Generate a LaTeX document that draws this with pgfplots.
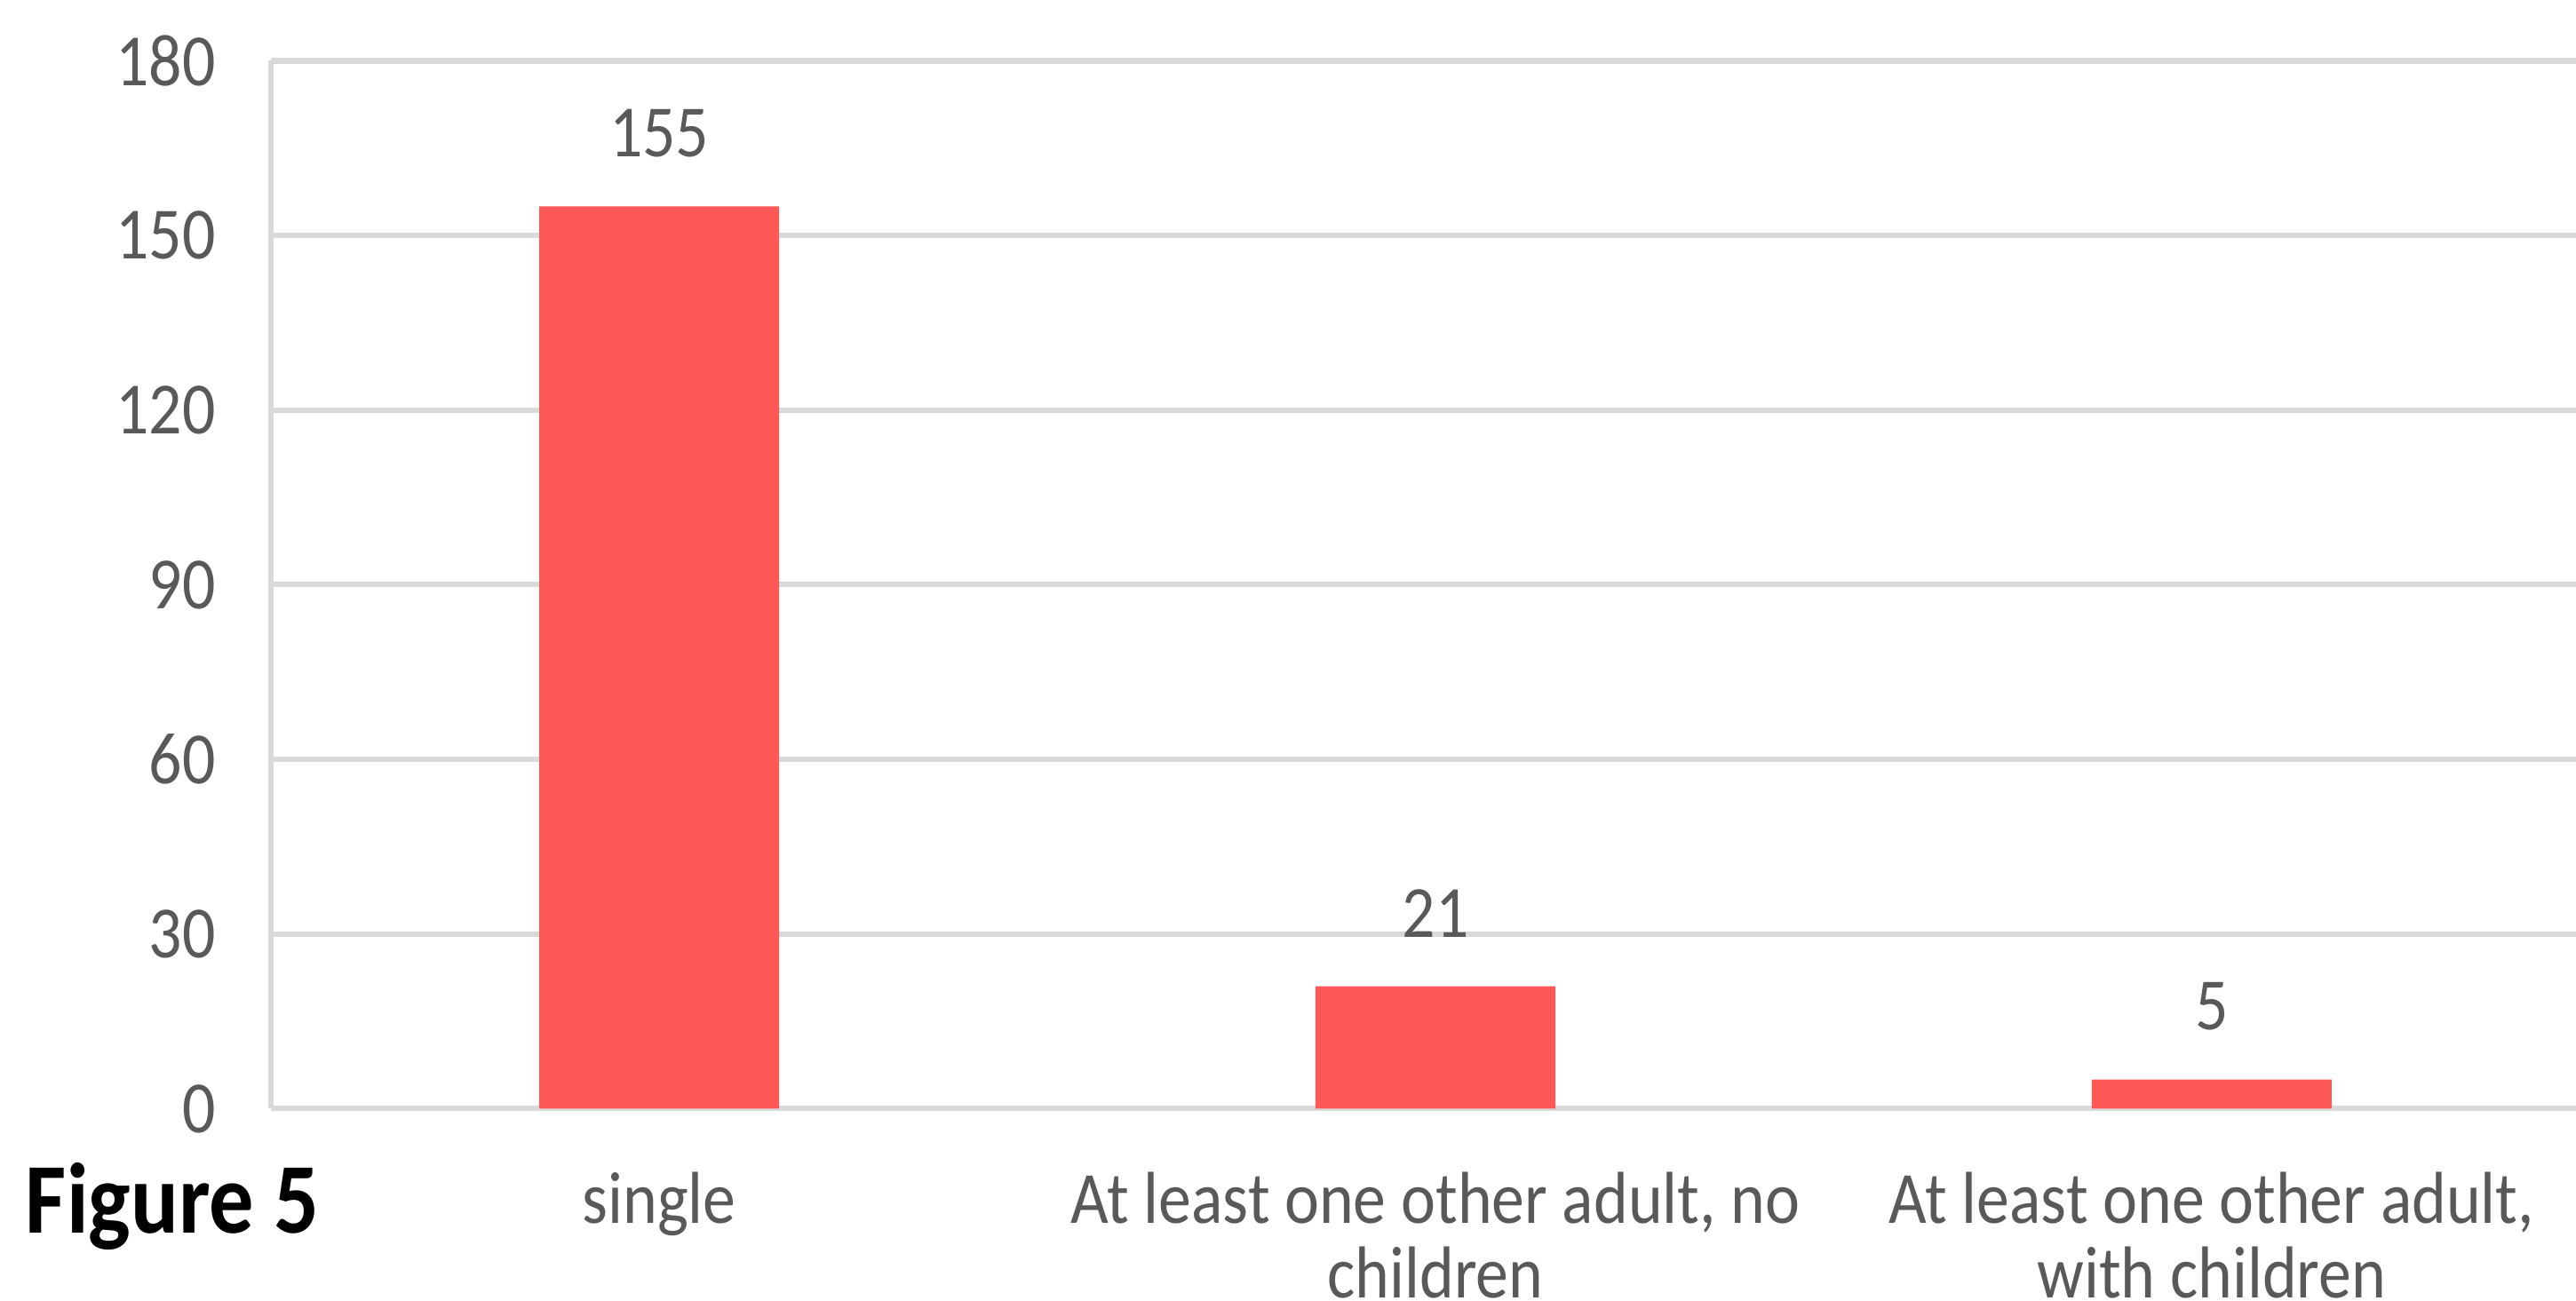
\documentclass[border=0pt]{standalone}
\usepackage{pgfplots}
\pgfplotsset{compat=1.18}
\usepackage{fontspec}
\setmainfont{Carlito}[FakeStretch=0.89]
\definecolor{barred}{RGB}{255,88,88}
\definecolor{gridgray}{RGB}{217,217,217}
\definecolor{textgray}{RGB}{89,89,89}

\begin{document}
\begin{tikzpicture}
\begin{axis}[
  at={(0pt,0pt)}, anchor=south west,
  scale only axis,
  width=425.25pt, height=191.4pt,
  xmin=-0.5, xmax=2.5,
  ymin=0, ymax=180,
  ytick={0,30,...,180},
  xtick={0,1,2},
  xticklabels={single,
    {At least one other adult, no\\children},
    {At least one other adult,\\with children}},
  xticklabel style={align=center, font=\fontsize{13.45}{13.6}\selectfont, text=textgray,
    inner sep=0pt, yshift=-11.4pt},
  yticklabel style={font=\fontsize{13.45}{14}\selectfont, text=textgray, xshift=-6.6pt},
  /pgf/number format/assume math mode=true,
  major tick length=0pt,
  ymajorgrids,
  grid style={gridgray, line width=1pt},
  axis line style={gridgray, line width=1pt},
  axis x line*=bottom,
  axis y line*=left,
  ybar, bar width=43.8pt,
  bar shift=0pt,
  nodes near coords,
  nodes near coords style={font=\fontsize{13.45}{14}\selectfont, text=textgray, anchor=center, yshift=13.4pt},
  clip=false,
]
\addplot[fill=barred, draw=none] coordinates {(0,155) (1,21) (2,5)};
\end{axis}
\node[anchor=base west, font=\fontsize{18.3}{20}\selectfont\bfseries, inner sep=0pt] at (-45pt,-22.8pt) {Figure 5};
\pgfresetboundingbox
\useasboundingbox (-49.5pt,-35.1pt) rectangle (420.9pt,202.5pt);
\end{tikzpicture}
\end{document}
